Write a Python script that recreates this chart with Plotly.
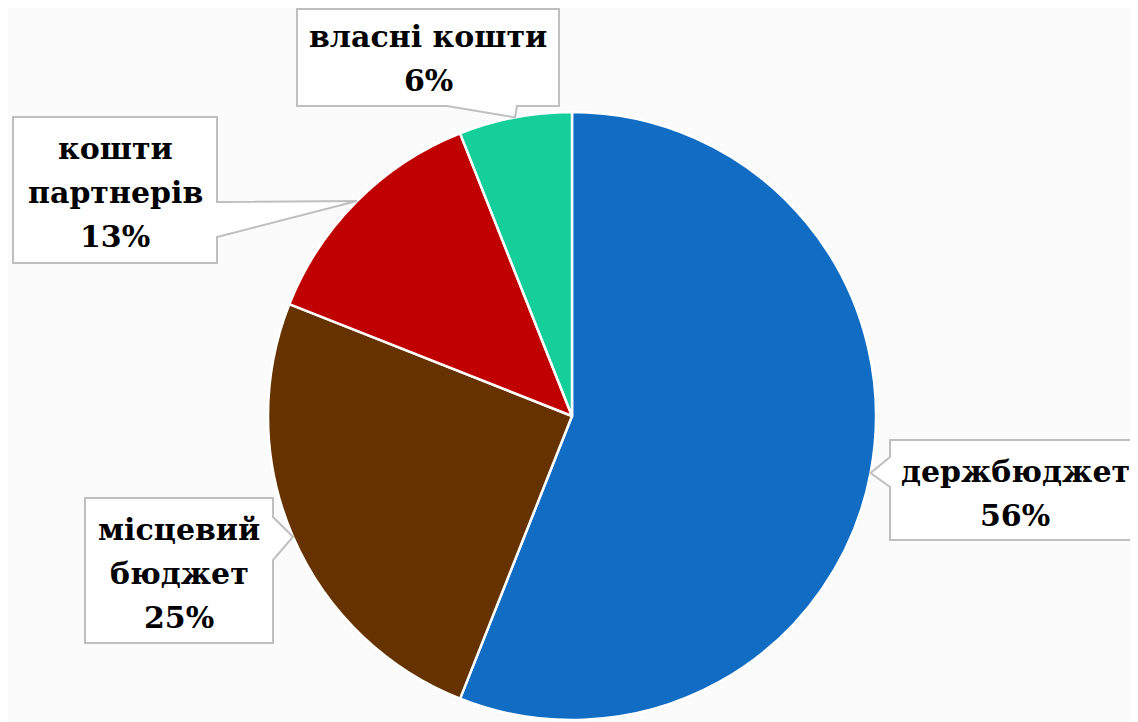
import math
import plotly.graph_objects as go

# ---- data ----
categories = ["держбюджет", "місцевий бюджет", "кошти партнерів", "власні кошти"]
display_lines = [["держбюджет"], ["місцевий", "бюджет"], ["кошти", "партнерів"], ["власні кошти"]]
values = [56, 25, 13, 6]
colors = ["#116DC4", "#663300", "#C00000", "#14CF9A"]

# ---- layout constants (screen pixels; the page body has an 8px margin) ----
OFF = 8
W, H = 1138 - OFF, 722 - OFF
PIE_CX, PIE_CY, PIE_R = 572, 416, 304
FONT = "DejaVu Serif"
FONT_SIZE = 30
LINE_GAP = 44

# callout boxes: (x0, y0, x1, y1), pointer side, pointer base (two coords along that side)
boxes = [
    ((890, 440, 1145, 540), "left", (457, 487)),
    ((85, 498, 273, 643), "right", (517, 560)),
    ((13, 117, 217, 263), "right", (202, 237)),
    ((297, 9, 559, 106), "bottom", (447, 517)),
]


def px(x):
    return (x - OFF) / W


def py(y):
    return 1 - (y - OFF) / H


fig = go.Figure()
fig.add_trace(go.Pie(
    labels=categories,
    values=values,
    sort=False,
    direction="clockwise",
    rotation=0,
    marker=dict(colors=colors, line=dict(color="white", width=2.5)),
    textinfo="none",
    hoverinfo="label+percent",
    showlegend=False,
    domain=dict(x=[px(PIE_CX - PIE_R), px(PIE_CX + PIE_R)],
                y=[max(0, py(PIE_CY + PIE_R)), py(PIE_CY - PIE_R)]),
))

total = sum(values)
cum = 0
shapes = []
annotations = []
for i, v in enumerate(values):
    mid = (cum + v / 2) / total
    cum += v
    ang = 2 * math.pi * mid
    tx = PIE_CX + PIE_R * math.sin(ang)
    ty = PIE_CY - PIE_R * math.cos(ang)
    (x0, y0, x1, y1), side, (b1, b2) = boxes[i]
    if side == "left":
        pts = [(x0, y0), (x1, y0), (x1, y1), (x0, y1), (x0, b2), (tx, ty), (x0, b1)]
    elif side == "right":
        pts = [(x0, y0), (x1, y0), (x1, b1), (tx, ty), (x1, b2), (x1, y1), (x0, y1)]
    else:  # bottom
        pts = [(x0, y0), (x1, y0), (x1, y1), (b2, y1), (tx, ty), (b1, y1), (x0, y1)]
    path = "M " + " L ".join(f"{px(a):.5f},{py(b):.5f}" for a, b in pts) + " Z"
    shapes.append(dict(type="path", xref="paper", yref="paper", path=path,
                       fillcolor="white", line=dict(color="#BFBFBF", width=2),
                       layer="above"))
    lines = display_lines[i] + [f"{v}%"]
    cx = (x0 + min(x1, 1140)) / 2
    cy = (y0 + y1) / 2 + (3 if y0 > 10 else 1)
    n = len(lines)
    for k, line in enumerate(lines):
        ly = cy + (k - (n - 1) / 2) * LINE_GAP
        annotations.append(dict(
            x=px(cx), y=py(ly),
            xref="paper", yref="paper", showarrow=False,
            text=f"<b>{line}</b>",
            font=dict(family=FONT, size=FONT_SIZE, color="black"),
            align="center", xanchor="center", yanchor="middle",
        ))

fig.update_layout(
    width=W, height=H,
    margin=dict(l=0, r=0, t=0, b=0),
    paper_bgcolor="#FBFBFB",
    plot_bgcolor="#FBFBFB",
    shapes=shapes,
    annotations=annotations,
)

fig.write_html("out.html")
